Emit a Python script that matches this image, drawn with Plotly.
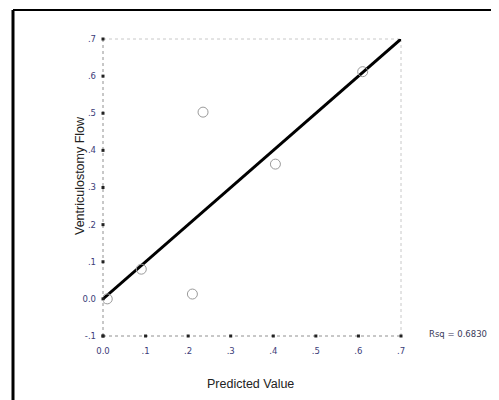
import plotly.graph_objects as go

predicted = [0.01, 0.09, 0.21, 0.235, 0.405, 0.61]
observed = [0.0, 0.08, 0.013, 0.503, 0.363, 0.612]
fit_x = [0.0, 0.7]
fit_y = [0.0, 0.7]
tick_vals = [-0.1, 0.0, 0.1, 0.2, 0.3, 0.4, 0.5, 0.6, 0.7]
y_tick_text = ["-.1", "0.0", ".1", ".2", ".3", ".4", ".5", ".6", ".7"]
x_tick_vals = [0.0, 0.1, 0.2, 0.3, 0.4, 0.5, 0.6, 0.7]
x_tick_text = ["0.0", ".1", ".2", ".3", ".4", ".5", ".6", ".7"]

OFF = 8  # page body margin
W, H = 499, 400
PL, PT, PR, PB = 103, 39, 401, 336  # plot area in page pixels
pw, ph = PR - PL, PB - PT
L, T = PL - OFF, PT - OFF
R, B = W - L - pw, H - T - ph

X_MIN, X_MAX = 0.0, 0.7
Y_MIN, Y_MAX = -0.1, 0.7

def px(xp):
    return (xp - PL) / pw

def py(yp):
    return (PB - yp) / ph

fig = go.Figure()
fig.add_trace(go.Scatter(x=fit_x, y=fit_y, mode="lines",
                         line=dict(color="black", width=3), hoverinfo="skip"))
fig.add_trace(go.Scatter(x=predicted, y=observed, mode="markers",
                         marker=dict(symbol="circle-open", size=10,
                                     color="#9a9a9a", line=dict(width=1))))
# tick dots sitting on the axis lines
fig.add_trace(go.Scatter(
    x=x_tick_vals + [X_MIN] * len(tick_vals),
    y=[Y_MIN] * len(x_tick_vals) + tick_vals,
    mode="markers", cliponaxis=False, hoverinfo="skip",
    marker=dict(symbol="square", size=3, color="#222", line=dict(width=0))))

tickfont = dict(family="DejaVu Sans", size=8.5, color="#3c3c78")
fig.update_xaxes(range=[X_MIN, X_MAX], tickvals=x_tick_vals, ticktext=x_tick_text,
                 showgrid=False, zeroline=False, showline=False,
                 ticks="", ticklabelstandoff=8, tickfont=tickfont)
fig.update_yaxes(range=[Y_MIN, Y_MAX], tickvals=tick_vals, ticktext=y_tick_text,
                 showgrid=False, zeroline=False, showline=False,
                 ticks="", ticklabelstandoff=6, tickfont=tickfont)

shapes = [
    # axis lines (dotted gray)
    dict(type="line", xref="paper", yref="paper", x0=0, x1=1, y0=0, y1=0,
         line=dict(color="#909090", width=1, dash="dot"), layer="below"),
    dict(type="line", xref="paper", yref="paper", x0=0, x1=0, y0=0, y1=1,
         line=dict(color="#909090", width=1, dash="dot"), layer="below"),
    # dotted top and right box
    dict(type="line", xref="paper", yref="paper", x0=0, x1=1, y0=1, y1=1,
         line=dict(color="#c8c8c8", width=1, dash="dot"), layer="below"),
    dict(type="line", xref="paper", yref="paper", x0=1, x1=1, y0=0, y1=1,
         line=dict(color="#c8c8c8", width=1, dash="dot"), layer="below"),
    # outer frame
    dict(type="line", xref="paper", yref="paper", x0=px(13), x1=px(510), y0=py(10), y1=py(10),
         line=dict(color="black", width=2)),
    dict(type="line", xref="paper", yref="paper", x0=px(13), x1=px(13), y0=py(10), y1=py(410),
         line=dict(color="black", width=3)),
]

annotations = [
    dict(text="Ventriculostomy Flow", xref="paper", yref="paper",
         x=px(80), y=py(176), textangle=-90, showarrow=False,
         font=dict(family="Arial, Liberation Sans", size=12.5, color="#222"),
         xanchor="center", yanchor="middle"),
    dict(text="Predicted Value", xref="paper", yref="paper",
         x=px(250), y=py(384), showarrow=False,
         font=dict(family="Arial, Liberation Sans", size=12.5, color="#222"),
         xanchor="center", yanchor="middle"),
    dict(text="Rsq = 0.6830", xref="paper", yref="paper",
         x=px(427), y=py(334), showarrow=False,
         font=dict(family="DejaVu Sans", size=8.5, color="#3a3a5a"),
         xanchor="left", yanchor="middle"),
]

fig.update_layout(width=W, height=H, margin=dict(l=L, r=R, t=T, b=B),
                  paper_bgcolor="white", plot_bgcolor="white",
                  showlegend=False, shapes=shapes, annotations=annotations)

fig.write_html("out.html")
